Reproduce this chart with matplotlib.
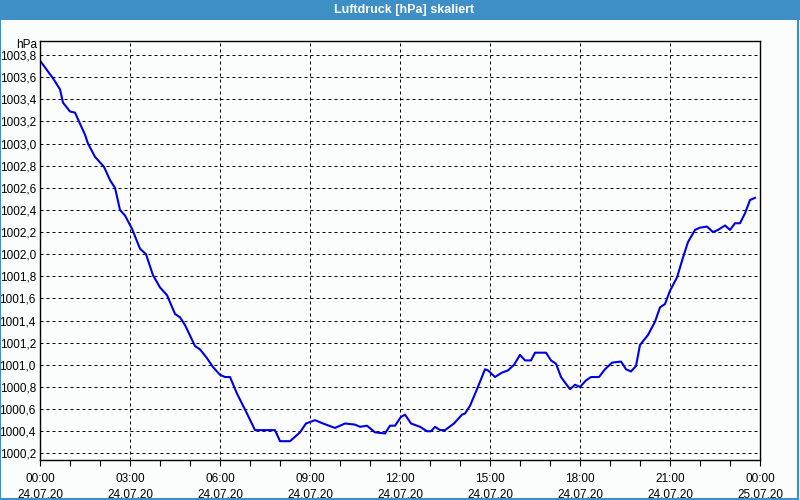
import numpy as np
import matplotlib.pyplot as plt
from matplotlib.patches import Rectangle
from matplotlib.ticker import FixedLocator, FuncFormatter

# minutes since 24.07.20 00:00 and air pressure in hPa
minutes = [0, 26, 40, 46, 60, 70, 80, 90, 96, 110, 128, 140, 150, 160, 170, 184,
           200, 212, 226, 240, 254, 270, 280, 290, 310, 320, 334, 346, 360, 370,
           380, 394, 414, 430, 440, 470, 480, 500, 520, 532, 550, 566, 590, 610,
           630, 640, 654, 670, 690, 700, 710, 722, 730, 742, 760, 774, 782, 790,
           800, 810, 828, 844, 850, 860, 874, 890, 896, 910, 924, 936, 948, 960,
           970, 982, 990, 1012, 1022, 1032, 1042, 1050, 1060, 1070, 1080, 1092,
           1102, 1118, 1130, 1144, 1162, 1172, 1182, 1192, 1200, 1216, 1230, 1240,
           1250, 1260, 1274, 1286, 1296, 1310, 1320, 1334, 1346, 1356, 1370, 1380,
           1390, 1400, 1410, 1420, 1430]
pressure = [1003.75, 1003.59, 1003.49, 1003.37, 1003.29, 1003.28, 1003.18, 1003.08,
            1003.00, 1002.88, 1002.79, 1002.67, 1002.60, 1002.40, 1002.35, 1002.23,
            1002.05, 1002.00, 1001.81, 1001.70, 1001.63, 1001.46, 1001.43, 1001.36,
            1001.17, 1001.14, 1001.06, 1000.98, 1000.91, 1000.89, 1000.89, 1000.74,
            1000.56, 1000.41, 1000.41, 1000.41, 1000.31, 1000.31, 1000.39, 1000.47,
            1000.50, 1000.47, 1000.43, 1000.47, 1000.46, 1000.44, 1000.45, 1000.39,
            1000.38, 1000.45, 1000.45, 1000.53, 1000.55, 1000.47, 1000.44, 1000.40,
            1000.40, 1000.44, 1000.41, 1000.41, 1000.47, 1000.55, 1000.56, 1000.63,
            1000.78, 1000.96, 1000.95, 1000.89, 1000.93, 1000.95, 1001.00, 1001.09,
            1001.04, 1001.04, 1001.11, 1001.11, 1001.04, 1001.01, 1000.89, 1000.84,
            1000.78, 1000.82, 1000.80, 1000.86, 1000.89, 1000.89, 1000.96, 1001.02,
            1001.03, 1000.96, 1000.94, 1000.99, 1001.18, 1001.27, 1001.39, 1001.52,
            1001.55, 1001.67, 1001.79, 1001.97, 1002.11, 1002.22, 1002.24,
            1002.25, 1002.20, 1002.22, 1002.26, 1002.22, 1002.28, 1002.28, 1002.37,
            1002.49, 1002.51]

tick_minutes = [0, 180, 360, 540, 720, 900, 1080, 1260, 1440]
tick_times = ["00:00", "03:00", "06:00", "09:00", "12:00", "15:00", "18:00", "21:00", "00:00"]
tick_dates = ["24.07.20"] * 8 + ["25.07.20"]
y_ticks = [1000.2, 1000.4, 1000.6, 1000.8, 1001.0, 1001.2, 1001.4, 1001.6, 1001.8,
           1002.0, 1002.2, 1002.4, 1002.6, 1002.8, 1003.0, 1003.2, 1003.4, 1003.6, 1003.8]

plt.rcParams['font.family'] = ['Liberation Sans', 'DejaVu Sans']
bg = '#fbfdfc'
frame = '#3d8fc6'

fig = plt.figure(figsize=(8, 5), dpi=100, facecolor=bg)

# window title bar and border
fig.patches.append(Rectangle((0, 0.96), 1, 0.04, transform=fig.transFigure,
                             facecolor=frame, edgecolor='none', zorder=0))
fig.patches.append(Rectangle((0.0005, 0.002), 0.997, 0.996, transform=fig.transFigure,
                             facecolor='none', edgecolor=frame, lw=1.5, zorder=0))
fig.text(0.505, 0.98, "Luftdruck [hPa] skaliert", color='white', fontsize=9,
         fontweight='bold', ha='center', va='center')

ax = fig.add_axes([0.05, 0.08, 0.90, 0.8386])
ax.set_facecolor(bg)
ax.plot(minutes, pressure, color='#0000e6', lw=1.5)

ax.set_xlim(0, 1440)
ax.set_ylim(1000.14, 1003.93)

ax.xaxis.set_major_locator(FixedLocator(tick_minutes))
ax.xaxis.set_minor_locator(FixedLocator(list(range(0, 1441, 60))))
ax.set_xticklabels([t + "\n" + d for t, d in zip(tick_times, tick_dates)])
ax.set_yticks(y_ticks)
ax.yaxis.set_major_formatter(FuncFormatter(lambda v, p: f"{v:.1f}".replace('.', ',')))

ax.tick_params(axis='x', which='both', direction='out', length=4, width=0.8,
               labelsize=8.5, pad=5)
ax.tick_params(axis='y', length=0, labelsize=8.5, pad=3)
for lab in ax.get_xticklabels():
    lab.set_linespacing(1.45)

ax.grid(True, which='major', color='black', lw=0.72, linestyle=(0, (3, 3)))
for s in ax.spines.values():
    s.set_color('black')
    s.set_linewidth(1.0)

ax.text(-0.004, 0.99, "hPa", transform=ax.transAxes, ha='right', va='center', fontsize=8.5)

fig.savefig("out.png", dpi=100, facecolor=bg)
